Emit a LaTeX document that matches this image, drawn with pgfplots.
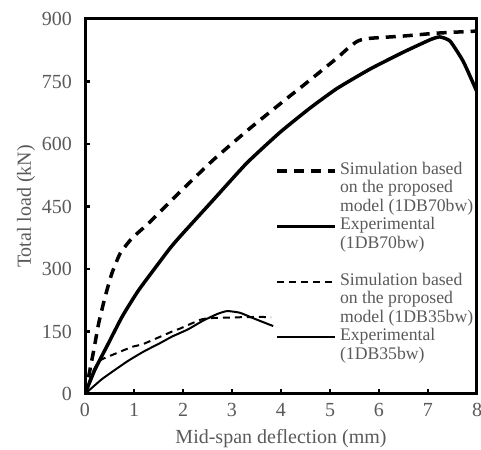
\documentclass[border=0pt]{standalone}
\usepackage{pgfplots}
\pgfplotsset{compat=1.18}
\usepackage{fontspec}
\setmainfont{Liberation Serif}
\definecolor{textgray}{RGB}{90,90,90}
\begin{document}
\begin{tikzpicture}
\begin{axis}[
  scale only axis, width=196pt, height=187.5pt,
  xmin=0, xmax=8, ymin=0, ymax=900,
  xtick={0,1,...,8}, ytick={0,150,...,900},
  tick align=inside, tick pos=left, major tick length=2.5pt,
  axis line style={line width=1.5pt},
  every tick/.style={black, line width=1.2pt},
  tick label style={font=\fontsize{10}{12}\selectfont, text=textgray},
  /pgf/number format/assume math mode=true,
  xticklabel style={yshift=-1pt},
  yticklabel style={xshift=-3pt},
  xlabel={Mid-span deflection (mm)},
  ylabel={Total load (kN)},
  label style={font=\fontsize{10}{12}\selectfont, text=textgray},
  xlabel style={yshift=0.5pt},
  ylabel style={yshift=-3.5pt},
  legend image code/.code={\draw[#1] (0pt,0pt) -- (29pt,0pt);},
  legend cell align=left,
  legend style={at={(0.485,0.621)}, anchor=north west, draw=none, fill=none,
    inner sep=0pt, row sep=0pt,
    font=\fontsize{8.85}{9.25}\selectfont, text=textgray,
    nodes={text height=6.4pt, text depth=2.85pt, inner sep=0pt, inner xsep=1.5pt}},
]
\coordinate (bl) at (rel axis cs:0,0);
\coordinate (tr) at (rel axis cs:1,1);
% Simulation 1DB70bw
\addplot[black, line width=1.75pt, dash pattern=on 5pt off 3.5pt, smooth, tension=0.3] coordinates {
(0,0) (0.075,42) (0.18,106) (0.28,170) (0.41,233) (0.55,290) (0.72,338) (0.96,374) (1.3,410)
(1.94,485) (2.62,562) (3.37,638) (4.18,715) (4.45,740) (5.14,806) (5.35,828) (5.55,846) (5.75,853)
(6.49,859) (7.18,866) (8.0,871)};
\addlegendentry{Simulation based}
\addlegendimage{empty legend}\addlegendentry{on the proposed}
\addlegendimage{empty legend}\addlegendentry{model (1DB70bw)}
% Experimental 1DB70bw
\addplot[black, line width=1.75pt, smooth, tension=0.3] coordinates {
(0,0) (0.2,58) (0.48,122) (0.76,186) (1.1,250) (1.71,346) (1.94,378) (2.62,466) (3.3,554)
(3.98,628) (4.59,686) (5.14,733) (5.82,780) (6.49,820) (7.04,850) (7.24,857) (7.45,847)
(7.72,798) (8.0,725)};
\addlegendentry{Experimental}
\addlegendimage{empty legend}\addlegendentry{(1DB70bw)}
\addlegendimage{empty legend}\addlegendentry{}
% Simulation 1DB35bw
\addplot[black, line width=1pt, dash pattern=on 3.5pt off 2.5pt, smooth, tension=0.3] coordinates {
(0,0) (0.1,35) (0.21,65) (0.33,82) (0.48,90) (0.96,113) (1.19,120) (1.78,150) (1.94,157)
(2.35,178) (2.55,182) (3.1,184) (3.57,185) (3.8,184)};
\addlegendentry{Simulation based}
\addlegendimage{empty legend}\addlegendentry{on the proposed}
\addlegendimage{empty legend}\addlegendentry{model (1DB35bw)}
% Experimental 1DB35bw
\addplot[black, line width=1pt, smooth, tension=0.3] coordinates {
(0,0) (0.35,36) (0.86,78) (1.2,102) (1.53,122) (1.78,138) (2.1,155) (2.41,176) (2.7,192)
(2.9,199) (3.16,195) (3.43,182) (3.84,163)};
\addlegendentry{Experimental}
\addlegendimage{empty legend}\addlegendentry{(1DB35bw)}
\end{axis}
\pgfresetboundingbox
\path ([shift={(-42.5pt,-28pt)}]bl) rectangle ([shift={(2pt,9.5pt)}]tr);
\end{tikzpicture}
\end{document}
